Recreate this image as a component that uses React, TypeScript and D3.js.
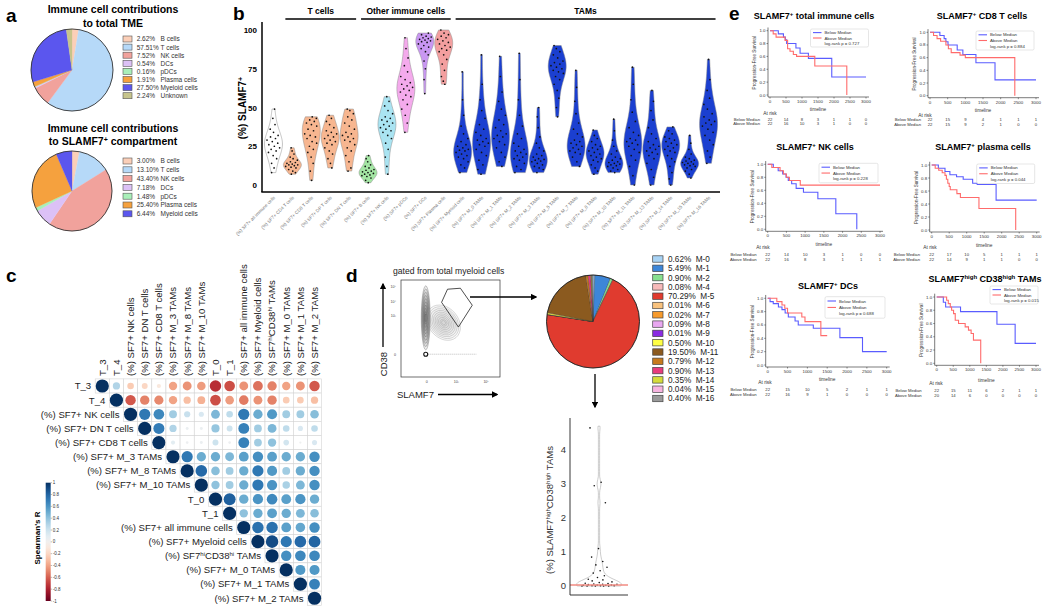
import React from "react";
import * as d3 from "d3";

const FONT = "'Liberation Sans', Arial, Helvetica, sans-serif";

// ---------------- Panel a data ----------------
const tmeCells = ["B cells", "T cells", "NK cells", "DCs", "pDCs", "Plasma cells", "Myeloid cells", "Unknown"];
const tmePct = [2.62, 57.51, 7.52, 0.54, 0.16, 1.91, 27.5, 2.24];
const slamCells = ["B cells", "T cells", "NK cells", "DCs", "pDCs", "Plasma cells", "Myeloid cells"];
const slamPct = [3.0, 13.1, 43.4, 7.18, 1.48, 25.4, 6.44];
const cellColors = ["#fbcfb8", "#b6d9f8", "#f1a29c", "#dcc1f6", "#a9efb9", "#f5a13e", "#5b56ee", "#c6c48c"];

// ---------------- Panel b data ----------------
const violinCats = [
  "(%) SF7+ all immune cells", "(%) SF7+ CD4 T cells", "(%) SF7+ CD8 T cells", "(%) SF7+ DP T cells",
  "(%) SF7+ DN T cells", "(%) SF7+ B cells", "(%) SF7+ NK cells", "(%) SF7+ pDCs", "(%) SF7+ DCs",
  "(%) SF7+ Plasma cells", "(%) SF7+ Myeloid cells", "(%) SF7+ M_0 TAMs", "(%) SF7+ M_1 TAMs",
  "(%) SF7+ M_2 TAMs", "(%) SF7+ M_3 TAMs", "(%) SF7+ M_5 TAMs", "(%) SF7+ M_7 TAMs", "(%) SF7+ M_8 TAMs",
  "(%) SF7+ M_10 TAMs", "(%) SF7+ M_11 TAMs", "(%) SF7+ M_13 TAMs", "(%) SF7+ M_14 TAMs",
  "(%) SF7+ M_15 TAMs", "(%) SF7+ M_16 TAMs",
];
const violinGroupNames = ["T cells", "Other immune cells", "TAMs"];
const violinGroupFirst = [1, 5, 10];
const violinGroupLast = [4, 9, 23];
const violinYTicks = [0, 25, 50, 75, 100];
const violinValues: number[][] = [
  [8, 11, 14, 17, 19, 21, 22, 23, 24, 25, 26, 27, 28, 29, 30, 31, 32, 34, 36, 39, 43, 49],
  [7, 8, 9, 10, 11, 11.5, 12, 12.5, 13, 13, 13.5, 14, 14.5, 15, 16, 17, 18, 20, 22, 24],
  [3, 9, 14, 18, 21, 23, 25, 27, 28, 30, 31, 32, 33, 35, 36, 38, 39, 40, 41, 42, 43, 44],
  [11, 14, 17, 20, 22, 24, 26, 27, 28, 29, 30, 31, 32, 33, 34, 35, 37, 39, 41, 43, 45],
  [9, 11, 15, 19, 22, 24, 26, 28, 29, 30, 31, 32, 33, 34, 36, 38, 40, 42, 44, 46, 48, 49],
  [1.5, 3, 4.5, 5.5, 6, 6.5, 7, 7.5, 8, 8.5, 9, 9.5, 10, 11, 12, 13, 15, 17, 19],
  [7, 12, 18, 23, 27, 30, 32, 34, 35, 36, 37, 38, 39, 40, 41, 42, 43, 44, 46, 48, 51, 54, 57],
  [34, 40, 45, 49, 52, 55, 57, 58, 60, 61, 62, 63, 64, 65, 66, 68, 70, 73, 77, 82, 88, 95],
  [59, 68, 75, 80, 84, 86, 88, 89, 90, 91, 92, 92.5, 93, 93.5, 94, 94.5, 95, 95.5, 96, 97, 98],
  [65, 67, 70, 74, 78, 81, 84, 86, 87, 88, 89, 90, 91, 92, 93, 94, 95, 96, 97, 98, 100],
  [8, 11, 13, 15, 17, 18, 19, 20, 21, 22, 22.5, 23, 24, 25, 26, 28, 30, 33, 38, 45, 55, 73],
  [7, 10, 13, 16, 19, 21, 23, 25, 26, 27, 28, 29, 30, 32, 34, 36, 39, 43, 48, 55, 65, 84],
  [12, 15, 18, 21, 24, 26, 28, 30, 31, 32, 33, 35, 37, 39, 42, 45, 49, 54, 60, 70, 83],
  [8, 10, 12, 14, 16, 17, 18, 19, 20, 21, 22, 23, 25, 27, 30, 33, 38, 45, 55, 68, 85],
  [8, 10, 11, 12, 13, 14, 15, 15.5, 16, 16.5, 17, 18, 19, 20, 22, 24, 27, 31, 37, 44, 50],
  [44, 50, 56, 61, 65, 68, 70, 72, 73, 74, 75, 76, 77, 78, 79, 80, 82, 84, 86, 88, 90],
  [12, 15, 18, 20, 21, 22, 23, 24, 25, 26, 27, 28, 29, 31, 33, 36, 40, 46, 54, 63, 74],
  [7, 9, 11, 13, 15, 16, 17, 18, 19, 20, 21, 22, 23, 24, 25, 26, 28, 30, 32, 35.5],
  [8, 9, 10, 11, 12, 12.5, 13, 13.5, 14, 14.5, 15, 16, 17, 18, 20, 22, 25, 29, 35, 42.5],
  [0, 6, 12, 16, 19, 21, 23, 25, 26, 27, 28, 29, 30, 32, 34, 37, 41, 47, 55, 65, 76],
  [0, 5, 10, 14, 17, 19, 20, 21, 22, 23, 24, 25, 26, 28, 30, 33, 37, 42, 48, 54, 61],
  [0, 4, 8, 12, 15, 17, 19, 21, 22, 23, 24, 25, 26, 27, 28, 29, 30, 31, 33, 35, 37.5],
  [4.5, 7, 9, 10, 11, 12, 12.5, 13, 13.5, 14, 14.5, 15, 15.5, 16, 17, 18, 20, 23, 27, 32],
  [14, 18, 22, 26, 29, 32, 34, 36, 38, 39, 40, 41, 42, 44, 46, 49, 52, 56, 61, 68, 81],
];
const violinColors = [
  "#ffffff", "#f7b690", "#f7b690", "#f7b690", "#f7b690", "#a4e6a4", "#aae4f2", "#f4aaec", "#c997f2", "#f39f9f",
  "#1b3fd0", "#1b3fd0", "#1b3fd0", "#1b3fd0", "#1b3fd0", "#1b3fd0", "#1b3fd0", "#1b3fd0", "#1b3fd0", "#1b3fd0",
  "#1b3fd0", "#1b3fd0", "#1b3fd0", "#1b3fd0",
];

// ---------------- Panel c data ----------------
const corrVars = [
  "T_3", "T_4", "(%) SF7+ NK cells", "(%) SF7+ DN T cells", "(%) SF7+ CD8 T cells", "(%) SF7+ M_3 TAMs",
  "(%) SF7+ M_8 TAMs", "(%) SF7+ M_10 TAMs", "T_0", "T_1", "(%) SF7+ all immune cells", "(%) SF7+ Myeloid cells",
  "SF7HI", "(%) SF7+ M_0 TAMs", "(%) SF7+ M_1 TAMs", "(%) SF7+ M_2 TAMs",
];
// upper triangle, row i starts at column i
const corrRows: number[][] = [
  [1, 0.3, -0.25, -0.2, -0.1, -0.4, -0.45, -0.42, -0.75, -0.65, -0.45, -0.55, -0.5, -0.4, -0.45, -0.62],
  [1, -0.62, -0.5, -0.48, -0.4, -0.3, -0.35, -0.65, -0.42, -0.52, -0.45, -0.5, -0.25, -0.25, -0.3],
  [1, 0.72, 0.65, 0.35, 0.22, 0.15, 0.45, 0.25, 0.72, 0.5, 0.58, 0.35, 0.35, 0.42],
  [1, 0.7, 0.3, 0.05, 0.05, 0.38, 0.2, 0.68, 0.35, 0.45, 0.25, 0.15, 0.25],
  [1, 0.1, 0.04, 0.05, 0.2, 0.04, 0.68, 0.35, 0.4, 0.18, 0.03, 0.15],
  [1, 0.72, 0.5, 0.5, 0.45, 0.55, 0.62, 0.55, 0.5, 0.5, 0.62],
  [1, 0.78, 0.42, 0.35, 0.5, 0.72, 0.58, 0.35, 0.5, 0.62],
  [1, 0.4, 0.35, 0.5, 0.72, 0.6, 0.32, 0.45, 0.62],
  [1, 0.82, 0.5, 0.6, 0.65, 0.55, 0.6, 0.5],
  [1, 0.4, 0.5, 0.55, 0.5, 0.45, 0.42],
  [1, 0.75, 0.75, 0.55, 0.52, 0.62],
  [1, 0.9, 0.72, 0.78, 0.8],
  [1, 0.62, 0.65, 0.65],
  [1, 0.58, 0.58],
  [1, 0.68],
  [1],
];
const colorbarTicks = [1, 0.8, 0.6, 0.4, 0.2, 0, -0.2, -0.4, -0.6, -0.8, -1];

// ---------------- Panel d data ----------------
const tamClusters = ["M-0", "M-1", "M-2", "M-4", "M-5", "M-6", "M-7", "M-8", "M-9", "M-10", "M-11", "M-12", "M-13", "M-14", "M-15", "M-16"];
const tamPct = [0.62, 5.49, 0.9, 0.08, 70.29, 0.01, 0.02, 0.09, 0.01, 0.5, 19.5, 0.79, 0.9, 0.35, 0.04, 0.4];
const tamColors = ["#a8d3f5", "#3d86d8", "#88e08f", "#f7b9b9", "#e03b2f", "#f9c27d", "#f69a2c", "#e8a7f0", "#8a2be2", "#ffff44", "#8b5a1f", "#c77a1d", "#e83b7d", "#d5dc3b", "#f7b4e0", "#9a9a9a"];
const hiHiValues = [4.65, 3.05, 2.95, 2.45, 1.1, 0.85, 0.72, 0.62, 0.55, 0.45, 0.38, 0.3, 0.25, 0.2, 0.18, 0.15, 0.12, 0.1, 0.08, 0.07, 0.06, 0.05, 0.05, 0.04, 0.03, 0.03, 0.02, 0.02, 0.01, 0.01, 0.01, 0, 0, 0, 0, 0];
const hiHiTicks = [0, 1, 2, 3, 4];
// flow populations (arbitrary display units 0..1): cx, cy, rx, ry, angle
const flowPopCx = [0.25, 0.43];
const flowPopCy = [0.61, 0.56];
const flowPopRx = [0.045, 0.15];
const flowPopRy = [0.33, 0.2];
const flowPopAngle = [0, -40];
const gateX = [0.41, 0.47, 0.6, 0.72, 0.58];
const gateY = [0.77, 0.905, 0.915, 0.74, 0.515];
const flowTickLabelsX = ["0", "10³", "10⁵"];
const flowTickPosX = [0.26, 0.56, 0.86];
const flowTickLabelsY = ["0", "10³", "10⁴", "10⁵"];
const flowTickPosY = [0.23, 0.63, 0.78, 0.93];

// ---------------- Panel e data ----------------
const kmTitles = ["SLAMF7+ total immune cells", "SLAMF7+ CD8 T cells", "SLAMF7+ NK cells", "SLAMF7+ plasma cells", "SLAMF7+ DCs", "HIHI"];
const kmP = ["0.727", "0.884", "0.228", "0.044", "0.688", "0.015"];
const kmBelow: number[][][] = [
  [[0, 1], [260, 0.95], [420, 0.9], [480, 0.86], [520, 0.8], [810, 0.73], [940, 0.65], [1200, 0.57], [1930, 0.28], [3000, 0.28]],
  [[0, 1], [280, 0.95], [400, 0.9], [450, 0.85], [510, 0.8], [770, 0.72], [930, 0.65], [1300, 0.52], [1840, 0.25], [3000, 0.25]],
  [[0, 1], [150, 0.95], [280, 0.9], [400, 0.85], [490, 0.8], [550, 0.75], [640, 0.7], [760, 0.63], [955, 0.57], [1340, 0.47], [1820, 0.24], [2380, 0]],
  [[0, 1], [190, 0.95], [380, 0.9], [520, 0.85], [710, 0.82], [900, 0.78], [1170, 0.72], [1300, 0.7], [1840, 0.46], [3000, 0.46]],
  [[0, 1], [60, 0.95], [140, 0.92], [270, 0.87], [360, 0.83], [440, 0.78], [520, 0.72], [690, 0.66], [770, 0.6], [1150, 0.55], [1820, 0.41], [2390, 0.2], [3000, 0.2]],
  [[0, 1], [200, 0.92], [270, 0.85], [720, 0.78], [1820, 0.59], [2370, 0.3], [3000, 0.3]],
];
const kmAbove: number[][][] = [
  [[0, 1], [100, 0.95], [190, 0.9], [470, 0.85], [550, 0.72], [625, 0.68], [730, 0.63], [830, 0.6], [1400, 0.45], [2400, 0]],
  [[0, 1], [100, 0.95], [200, 0.9], [300, 0.86], [450, 0.8], [520, 0.74], [600, 0.68], [850, 0.64], [1000, 0.6], [2400, 0]],
  [[0, 1], [110, 0.95], [330, 0.9], [420, 0.85], [500, 0.8], [580, 0.75], [870, 0.68], [3000, 0.68]],
  [[0, 1], [100, 0.95], [200, 0.92], [300, 0.88], [380, 0.84], [420, 0.78], [460, 0.72], [500, 0.67], [530, 0.62], [720, 0.56], [820, 0.5], [1350, 0.33], [2400, 0]],
  [[0, 1], [230, 0.95], [360, 0.9], [430, 0.85], [500, 0.78], [860, 0.72], [940, 0.65], [1340, 0.44], [1500, 0.44]],
  [[0, 1], [300, 0.95], [350, 0.9], [410, 0.85], [450, 0.8], [510, 0.75], [560, 0.65], [660, 0.6], [860, 0.55], [960, 0.5], [1040, 0.45], [1110, 0.35], [1330, 0]],
];
const kmRiskBelow = [
  [22, 14, 8, 3, 1, 1, 0], [22, 15, 9, 4, 1, 1, 1], [22, 14, 10, 3, 1, 0, 0],
  [22, 17, 10, 5, 1, 1, 1], [22, 15, 10, 5, 2, 1, 1], [22, 15, 11, 6, 2, 1, 1],
];
const kmRiskAbove = [
  [22, 16, 10, 3, 1, 0, 0], [22, 15, 9, 2, 1, 0, 0], [22, 16, 8, 3, 1, 1, 1],
  [22, 14, 9, 1, 1, 0, 0], [22, 16, 9, 1, 0, 0, 0], [20, 14, 6, 0, 0, 0, 0],
];
const kmTimeTicks = [0, 500, 1000, 1500, 2000, 2500, 3000];
const kmSurvTicks = [0, 0.2, 0.4, 0.6, 0.8, 1.0];

// ---------------- layout (positions only) ----------------
const kmLayout = [
  { x0: 770, x1: 866, yT: 30.7, yB: 95, tx: 814, ty: 19, lx: 810.5, ly: 29, lw: 58, lh: 18, tlY: 111, arX: 770, arY: 114.5, r1: 121, r2: 125, lbX: 760 },
  { x0: 930, x1: 1036, yT: 32.3, yB: 95.7, tx: 982, ty: 19, lx: 976, ly: 31, lw: 58, lh: 19, tlY: 111.5, arX: 925, arY: 116.5, r1: 121, r2: 125.5, lbX: 921 },
  { x0: 767.7, x1: 880, yT: 164.3, yB: 229.3, tx: 815, ty: 150, lx: 819, ly: 163.3, lw: 59, lh: 19.5, tlY: 246, arX: 763, arY: 249, r1: 256, r2: 260.5, lbX: 756.7 },
  { x0: 931.7, x1: 1036.7, yT: 165, yB: 230, tx: 983, ty: 150, lx: 976.7, ly: 164, lw: 58, lh: 19.5, tlY: 246.5, arX: 930, arY: 249, r1: 256, r2: 260.5, lbX: 920 },
  { x0: 767.7, x1: 886.7, yT: 298.3, yB: 365, tx: 828, ty: 288.5, lx: 825, ly: 296.7, lw: 60, lh: 21.5, tlY: 381, arX: 765, arY: 384, r1: 391, r2: 396, lbX: 756.7 },
  { x0: 936.7, x1: 1036, yT: 297, yB: 363.3, tx: 985, ty: 282, lx: 990, ly: 286, lw: 48, lh: 18, tlY: 382, arX: 936, arY: 384.5, r1: 392, r2: 397, lbX: 921.7 },
];

// ---------------- helpers ----------------
function gaussKde(values: number[], bw: number, at: number): number {
  let s = 0;
  for (const v of values) s += Math.exp(-0.5 * ((at - v) / bw) ** 2);
  return s / values.length;
}

function PanelA() {
  const pieGen = d3.pie<number>().sort(null).value((d) => d);
  const pies = [
    { cx: 72, cy: 70, r: 41, vals: tmePct, labels: tmeCells, ly: 39, step: 8.1 },
    { cx: 72, cy: 191, r: 40, vals: slamPct, labels: slamCells, ly: 161, step: 8.8 },
  ];
  return (
    <g>
      <text x={6} y={22} fontSize={19} fontWeight="bold">a</text>
      <text x={113} y={13} fontSize={10.5} fontWeight="bold" textAnchor="middle">Immune cell contributions</text>
      <text x={113} y={26.5} fontSize={10.5} fontWeight="bold" textAnchor="middle">to total TME</text>
      <text x={113} y={131.5} fontSize={10.5} fontWeight="bold" textAnchor="middle">Immune cell contributions</text>
      <text x={113} y={145} fontSize={10.5} fontWeight="bold" textAnchor="middle">
        to SLAMF7<tspan dy={-3.5} fontSize={7}>+</tspan><tspan dy={3.5}> compartment</tspan>
      </text>
      {pies.map((p, pi) => {
        const arcs = pieGen(p.vals);
        const arc = d3.arc<d3.PieArcDatum<number>>().innerRadius(0).outerRadius(p.r);
        return (
          <g key={pi}>
            <g transform={`translate(${p.cx},${p.cy})`}>
              {arcs.map((a, i) => (
                <path key={i} d={arc(a) || ""} fill={cellColors[i]} stroke={cellColors[i]} strokeWidth={0.3} />
              ))}
              <circle r={p.r} fill="none" stroke="#333" strokeWidth={0.9} />
            </g>
            {p.labels.map((l, i) => (
              <g key={l} transform={`translate(0,${p.ly + i * p.step})`}>
                <rect x={123} y={-3} width={9} height={6} fill={cellColors[i]} stroke="#555" strokeWidth={0.6} />
                <text x={136.7} y={2.4} fontSize={6.5} fill="#333">{p.vals[i].toFixed(2)}%</text>
                <text x={160.5} y={2.4} fontSize={6.5} fill="#333">{l}</text>
              </g>
            ))}
          </g>
        );
      })}
    </g>
  );
}

function PanelB() {
  const xB = d3.scaleBand<string>().domain(violinCats).range([264, 718]);
  const yB = d3.scaleLinear().domain([0, 100]).range([185, 30]);
  const halfMax = 9;
  const cx = (c: string) => (xB(c) as number) + xB.bandwidth() / 2;
  return (
    <g>
      <text x={233} y={20} fontSize={19} fontWeight="bold">b</text>
      {violinGroupNames.map((g, i) => {
        const a = cx(violinCats[violinGroupFirst[i]]) - 7;
        const b = cx(violinCats[violinGroupLast[i]]) + 7;
        return (
          <g key={g}>
            <line x1={a} x2={b} y1={19} y2={19} stroke="#000" strokeWidth={1.6} />
            <text x={(a + b) / 2} y={13.5} fontSize={8.5} fontWeight="bold" textAnchor="middle">{g}</text>
          </g>
        );
      })}
      {violinCats.map((c, i) => {
        const vals = violinValues[i].slice().sort(d3.ascending);
        const mn = vals[0];
        const mx = vals[vals.length - 1];
        const sd = d3.deviation(vals) || 1;
        const bw = 1.06 * sd * Math.pow(vals.length, -0.2) * 0.95;
        const grid = d3.range(0, 61).map((k) => mn + ((mx - mn) * k) / 60);
        const dens = grid.map((g) => gaussKde(vals, bw, g));
        const dmax = d3.max(dens) as number;
        const xc = cx(c);
        const area = d3
          .area<number>()
          .x0((d, k) => xc - (dens[k] / dmax) * halfMax)
          .x1((d, k) => xc + (dens[k] / dmax) * halfMax)
          .y((d) => yB(d))
          .curve(d3.curveBasis);
        return (
          <g key={c}>
            <path d={area(grid) || ""} fill={violinColors[i]} stroke="#8a8a8a" strokeWidth={0.5} />
            {violinValues[i].map((v, k) => {
              const w = (gaussKde(vals, bw, v) / dmax) * halfMax * 0.8;
              const j = (((k * 0.6180339887 + i * 0.31) % 1) * 2 - 1) * w;
              return <circle key={k} cx={xc + j} cy={yB(v)} r={0.85} fill="#111" />;
            })}
            <text
              transform={`translate(${xc + 2},${198}) rotate(-45)`}
              textAnchor="end"
              fontSize={4.6}
              fill="#777"
            >
              {c}
            </text>
          </g>
        );
      })}
      <line x1={262} x2={262} y1={22} y2={192} stroke="#000" strokeWidth={1.5} />
      <line x1={261.3} x2={720} y1={192} y2={192} stroke="#000" strokeWidth={1.5} />
      {violinYTicks.map((t) => (
        <text key={t} x={257} y={yB(t) + 3} fontSize={8} fontWeight="bold" textAnchor="end">{t}</text>
      ))}
      <text transform={`translate(246,${108}) rotate(-90)`} fontSize={10} fontWeight="bold" textAnchor="middle">
        (%) SLAMF7<tspan dy={-3.5} fontSize={7}>+</tspan>
      </text>
    </g>
  );
}

function CorrLabel({ v }: { v: string }) {
  if (v === "SF7HI")
    return (
      <>
        (%) SF7<tspan dy={-3} fontSize={6}>hi</tspan>
        <tspan dy={3}>CD38</tspan>
        <tspan dy={-3} fontSize={6}>hi</tspan>
        <tspan dy={3}> TAMs</tspan>
      </>
    );
  return <>{v}</>;
}

function PanelC() {
  const idx = corrVars.map((_, i) => i);
  const band = d3.scaleBand<number>().domain(idx).range([95.2, 95.2 + 16 * 14.15]);
  const bandY = d3.scaleBand<number>().domain(idx).range([378.9, 378.9 + 16 * 14.15]);
  const s = band.bandwidth();
  const color = (r: number) => d3.interpolateRdBu((r + 1) / 2);
  const rScale = d3.scaleSqrt().domain([0, 1]).range([0, 6.6]);
  const cb = d3.scaleLinear().domain([1, -1]).range([482.7, 601]);
  const gradStops = d3.range(0, 21).map((k) => k / 20);
  return (
    <g>
      <text x={6} y={282} fontSize={19} fontWeight="bold">c</text>
      <defs>
        <linearGradient id="cbgrad" x1="0" x2="0" y1="0" y2="1">
          {gradStops.map((t) => (
            <stop key={t} offset={t} stopColor={color(1 - 2 * t)} />
          ))}
        </linearGradient>
      </defs>
      {corrRows.map((row, i) =>
        row.map((r, k) => {
          const j = i + k;
          const x = band(j) as number;
          const y = bandY(i) as number;
          return (
            <g key={`${i}-${j}`}>
              <rect x={x} y={y} width={s} height={s} fill="#fff" stroke="#d4d4d4" strokeWidth={0.6} />
              <circle cx={x + s / 2} cy={y + s / 2} r={rScale(Math.abs(r))} fill={color(r)} />
            </g>
          );
        })
      )}
      {corrVars.map((v, i) => (
        <text key={`r${i}`} x={(band(i) as number) - 4} y={(bandY(i) as number) + s / 2 + 3.4} fontSize={9.6} textAnchor="end" fill="#222">
          <CorrLabel v={v} />
        </text>
      ))}
      {corrVars.map((v, i) => (
        <text key={`c${i}`} transform={`translate(${(band(i) as number) + s / 2 + 3.4},${376}) rotate(-90)`} fontSize={9.6} fill="#222">
          <CorrLabel v={v} />
        </text>
      ))}
      <rect x={45.7} y={482.7} width={5} height={118.3} fill="url(#cbgrad)" />
      {colorbarTicks.map((t) => (
        <g key={t}>
          <line x1={50.7} x2={52} y1={cb(t)} y2={cb(t)} stroke="#555" strokeWidth={0.4} />
          <text x={52.8} y={cb(t) + 1.6} fontSize={4.5} fill="#333">{t}</text>
        </g>
      ))}
      <text transform={`translate(40,538) rotate(-90)`} fontSize={8} fontWeight="bold" textAnchor="middle">Spearman's R</text>
    </g>
  );
}

function PanelD() {
  const fx = d3.scaleLinear().domain([0, 1]).range([401, 500]);
  const fy = d3.scaleLinear().domain([0, 1]).range([377, 280]);
  const pieGen = d3.pie<number>().sort(null).value((d) => d);
  const arcs = pieGen(tamPct);
  const R = 46.5;
  const arc = d3.arc<d3.PieArcDatum<number>>().innerRadius(0).outerRadius(R);
  const yV = d3.scaleLinear().domain([0, 4]).range([586, 450]);
  const vals = hiHiValues.slice().sort(d3.ascending);
  const bw = 0.12;
  const grid = d3.range(0, 61).map((k) => (4.7 * k) / 60);
  const dens = grid.map((g) => gaussKde(vals, bw, g));
  const dmax = d3.max(dens) as number;
  const vx = 599;
  const half = 23;
  const vArea = d3
    .area<number>()
    .x0((d, k) => vx - Math.max(0.6, (dens[k] / dmax) * half))
    .x1((d, k) => vx + Math.max(0.6, (dens[k] / dmax) * half))
    .y((d) => yV(d))
    .curve(d3.curveBasis);
  const levels = [1, 0.9, 0.8, 0.7, 0.6, 0.5, 0.4, 0.3, 0.2, 0.12];
  return (
    <g>
      <text x={346} y={282} fontSize={19} fontWeight="bold">d</text>
      <text x={393} y={274} fontSize={8.6} fill="#222">gated from total myeloid cells</text>
      <defs>
        <marker id="arrowHead" viewBox="0 0 10 10" refX="8" refY="5" markerWidth="5" markerHeight="5" orient="auto">
          <path d="M0,0 L10,5 L0,10 z" fill="#000" />
        </marker>
      </defs>
      {/* flow plot */}
      <rect x={fx(0)} y={fy(1)} width={fx(1) - fx(0)} height={fy(0) - fy(1)} fill="#fff" stroke="#333" strokeWidth={0.7} />
      <line x1={fx(0.25)} x2={fx(0.76)} y1={fy(0.235)} y2={fy(0.235)} stroke="#999" strokeWidth={0.8} strokeDasharray="0.8,1.2" />
      {flowPopCx.map((c, p) =>
        levels.map((l, k) => (
          <ellipse
            key={`${p}-${k}`}
            cx={fx(c)}
            cy={fy(flowPopCy[p])}
            rx={(fx(flowPopRx[p]) - fx(0)) * l}
            ry={(fy(0) - fy(flowPopRy[p])) * l}
            transform={`rotate(${flowPopAngle[p]},${fx(c)},${fy(flowPopCy[p])})`}
            fill={p === 0 ? "#777" : "#bbb"}
            fillOpacity={p === 0 ? 0.12 : 0.07}
            stroke={p === 0 ? "#555" : "#999"}
            strokeWidth={0.35}
          />
        ))
      )}
      <circle cx={fx(0.25)} cy={fy(0.235)} r={2} fill="#fff" stroke="#111" strokeWidth={1.1} />
      <polygon points={gateX.map((g, i) => `${fx(g)},${fy(gateY[i])}`).join(" ")} fill="none" stroke="#222" strokeWidth={0.8} />
      {flowTickLabelsX.map((t, i) => (
        <text key={t} x={fx(flowTickPosX[i])} y={fy(0) + 6} fontSize={3.6} textAnchor="middle" fill="#444">{t}</text>
      ))}
      {flowTickLabelsY.map((t, i) => (
        <text key={t} x={fx(0) - 5} y={fy(flowTickPosY[i]) + 1.2} fontSize={3.6} textAnchor="end" fill="#444">{t}</text>
      ))}
      <line x1={383} x2={383} y1={347} y2={284} stroke="#000" strokeWidth={1.3} markerEnd="url(#arrowHead)" />
      <text transform="translate(386.5,364) rotate(-90)" fontSize={9.5} textAnchor="middle" fill="#222">CD38</text>
      <text x={397} y={398} fontSize={9.5} fill="#222">SLAMF7</text>
      <line x1={438} x2={497} y1={394.5} y2={394.5} stroke="#000" strokeWidth={1.3} markerEnd="url(#arrowHead)" />
      <line x1={470} x2={536} y1={297} y2={297} stroke="#000" strokeWidth={1.3} markerEnd="url(#arrowHead)" />
      {/* pie */}
      <g transform="translate(593,321.5)">
        {arcs.map((a, i) => (
          <path key={i} d={arc(a) || ""} fill={tamColors[i]} stroke="#333" strokeWidth={0.3} />
        ))}
        <circle r={R} fill="none" stroke="#222" strokeWidth={0.9} />
      </g>
      {tamClusters.map((c, i) => (
        <g key={c} transform={`translate(0,${259 + i * 9.3})`}>
          <rect x={652.7} y={-3.2} width={10.3} height={6.4} fill={tamColors[i]} stroke="#444" strokeWidth={0.7} />
          <text x={668} y={2.9} fontSize={8.2} fill="#222" style={{ whiteSpace: "pre" }}>
            {`${tamPct[i].toFixed(2)}%  ${c}`}
          </text>
        </g>
      ))}
      <line x1={595} x2={595} y1={374} y2={407} stroke="#000" strokeWidth={1.3} markerEnd="url(#arrowHead)" />
      {/* small violin */}
      <path d={vArea(grid) || ""} fill="#fff" stroke="#aaa" strokeWidth={0.6} />
      {hiHiValues.map((v, k) => {
        const w = Math.max(9, (gaussKde(vals, bw, v) / dmax) * half * 0.8);
        const j = (((k * 0.6180339887) % 1) * 2 - 1) * w;
        return <circle key={k} cx={vx + j} cy={yV(v)} r={0.8} fill="#111" />;
      })}
      <line x1={570} x2={628} y1={yV(0.03)} y2={yV(0.03)} stroke="#f28b82" strokeWidth={1.4} />
      <line x1={570} x2={570} y1={418} y2={595} stroke="#222" strokeWidth={0.9} />
      <line x1={570} x2={628} y1={595} y2={595} stroke="#222" strokeWidth={0.9} />
      {hiHiTicks.map((t) => (
        <text key={t} x={566} y={yV(t) + 3.3} fontSize={9.5} textAnchor="end" fill="#333">{t}</text>
      ))}
      <text transform="translate(553,510) rotate(-90)" fontSize={9.5} textAnchor="middle" fill="#333">
        (%) SLAMF7<tspan dy={-3.5} fontSize={6}>high</tspan>
        <tspan dy={3.5}>CD38</tspan>
        <tspan dy={-3.5} fontSize={6}>high</tspan>
        <tspan dy={3.5}> TAMs</tspan>
      </text>
    </g>
  );
}

function KmTitle({ t }: { t: string }) {
  if (t === "HIHI")
    return (
      <>
        SLAMF7<tspan dy={-3} fontSize={6}>high</tspan>
        <tspan dy={3}> CD38</tspan>
        <tspan dy={-3} fontSize={6}>high</tspan>
        <tspan dy={3}> TAMs</tspan>
      </>
    );
  const parts = t.split("+");
  return (
    <>
      {parts[0]}
      <tspan dy={-3} fontSize={6}>+</tspan>
      <tspan dy={3}>{parts[1]}</tspan>
    </>
  );
}

function PanelE() {
  const blue = "#5a5cff";
  const red = "#ff6b6b";
  return (
    <g>
      <text x={729} y={20} fontSize={19} fontWeight="bold">e</text>
      {kmLayout.map((L, p) => {
        const x = d3.scaleLinear().domain([0, 3000]).range([L.x0, L.x1]);
        const y = d3.scaleLinear().domain([0, 1]).range([L.yB, L.yT]);
        const line = d3
          .line<number[]>()
          .x((d) => x(d[0]))
          .y((d) => y(d[1]))
          .curve(d3.curveStepAfter);
        return (
          <g key={p}>
            <text x={L.tx} y={L.ty} fontSize={9} fontWeight="bold" textAnchor="middle">
              <KmTitle t={kmTitles[p]} />
            </text>
            <line x1={L.x0 - 2} x2={L.x0 - 2} y1={y(1.05)} y2={L.yB + 2} stroke="#222" strokeWidth={0.6} />
            <line x1={L.x0 - 2} x2={L.x1 + 3} y1={L.yB + 2} y2={L.yB + 2} stroke="#222" strokeWidth={0.6} />
            {kmSurvTicks.map((t) => (
              <g key={t}>
                <line x1={L.x0 - 3.5} x2={L.x0 - 2} y1={y(t)} y2={y(t)} stroke="#222" strokeWidth={0.5} />
                <text x={L.x0 - 4.5} y={y(t) + 1.5} fontSize={4.4} textAnchor="end" fill="#333">{t.toFixed(1)}</text>
              </g>
            ))}
            {kmTimeTicks.map((t) => (
              <g key={t}>
                <line x1={x(t)} x2={x(t)} y1={L.yB + 2} y2={L.yB + 3.5} stroke="#222" strokeWidth={0.5} />
                <text x={x(t)} y={L.yB + 8} fontSize={4.4} textAnchor="middle" fill="#333">{t}</text>
              </g>
            ))}
            <text transform={`translate(${L.x0 - 14},${(L.yT + L.yB) / 2}) rotate(-90)`} fontSize={4.6} textAnchor="middle" fill="#333">
              Progression-Free Survival
            </text>
            <text x={(L.x0 + L.x1) / 2} y={L.tlY} fontSize={4.8} textAnchor="middle" fill="#333">timeline</text>
            <path d={line(kmBelow[p]) || ""} fill="none" stroke={blue} strokeWidth={1.1} />
            <path d={line(kmAbove[p]) || ""} fill="none" stroke={red} strokeWidth={1.1} />
            <rect x={L.lx} y={L.ly} width={L.lw} height={L.lh} rx={1.5} fill="#fff" fillOpacity={0.85} stroke="#ccc" strokeWidth={0.5} />
            <line x1={L.lx + 2.5} x2={L.lx + 11} y1={L.ly + L.lh * 0.2} y2={L.ly + L.lh * 0.2} stroke={blue} strokeWidth={1.1} />
            <text x={L.lx + 14} y={L.ly + L.lh * 0.2 + 1.5} fontSize={4.3} fill="#333">Below Median</text>
            <line x1={L.lx + 2.5} x2={L.lx + 11} y1={L.ly + L.lh * 0.5} y2={L.ly + L.lh * 0.5} stroke={red} strokeWidth={1.1} />
            <text x={L.lx + 14} y={L.ly + L.lh * 0.5 + 1.5} fontSize={4.3} fill="#333">Above Median</text>
            <text x={L.lx + 14} y={L.ly + L.lh * 0.8 + 1.5} fontSize={4.3} fill="#333">log-rank p = {kmP[p]}</text>
            <text x={L.arX} y={L.arY} fontSize={4.8} textAnchor="middle" fill="#333">At risk</text>
            <text x={L.lbX} y={L.r1} fontSize={4.2} textAnchor="end" fill="#333">Below Median</text>
            <text x={L.lbX} y={L.r2} fontSize={4.2} textAnchor="end" fill="#333">Above Median</text>
            {kmTimeTicks.map((t, k) => (
              <g key={`n${t}`}>
                <text x={x(t)} y={L.r1} fontSize={4.2} textAnchor="middle" fill="#333">{kmRiskBelow[p][k]}</text>
                <text x={x(t)} y={L.r2} fontSize={4.2} textAnchor="middle" fill="#333">{kmRiskAbove[p][k]}</text>
              </g>
            ))}
          </g>
        );
      })}
    </g>
  );
}

export default function App() {
  return (
    <div style={{ position: "absolute", left: 0, top: 0 }}>
      <svg width={1050} height={611} style={{ display: "block", background: "#fff" }} fontFamily={FONT}>
        <rect width={1050} height={611} fill="#fff" />
        <PanelA />
        <PanelB />
        <PanelC />
        <PanelD />
        <PanelE />
      </svg>
    </div>
  );
}
